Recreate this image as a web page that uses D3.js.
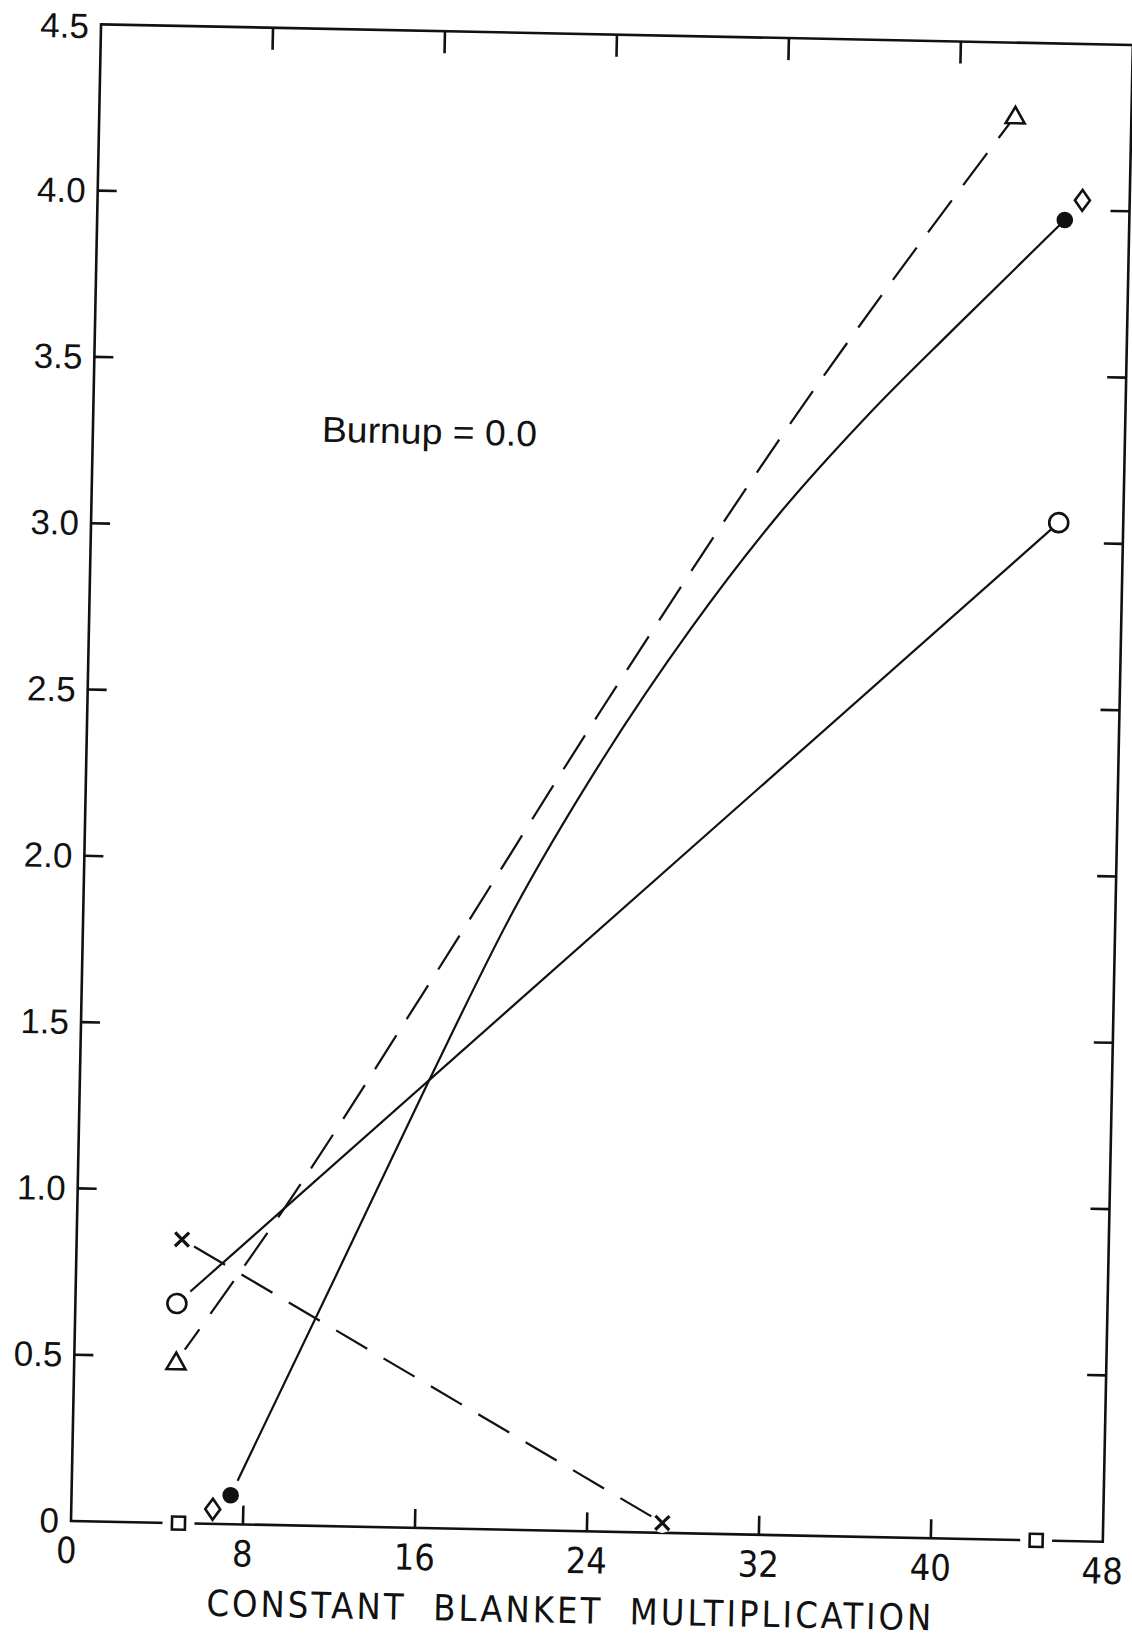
<!DOCTYPE html>
<html>
<head>
<meta charset="utf-8">
<script src="https://cdn.jsdelivr.net/npm/d3@7"></script>
<style>
  html, body { margin: 0; padding: 0; background: #fff; }
  svg { display: block; }
  text { fill: #111; }
</style>
</head>
<body>
<svg id="chart" width="1132" height="1641"></svg>
<script>
// ---- axis ticks and labels ----
const xTickValues = [0, 8, 16, 24, 32, 40, 48];
const xTickLabels = ["0", "8", "16", "24", "32", "40", "48"];
const yTickValues = [0, 0.5, 1.0, 1.5, 2.0, 2.5, 3.0, 3.5, 4.0, 4.5];
const yTickLabels = ["0", "0.5", "1.0", "1.5", "2.0", "2.5", "3.0", "3.5", "4.0", "4.5"];
const xTitle = "CONSTANT  BLANKET  MULTIPLICATION";
const note = "Burnup = 0.0";

// ---- series (x = blanket multiplication, y = value) ----
// open circles, solid straight line
const circleX = [4.72, 45.0];
const circleY = [0.66, 3.06];
// open triangles, dashed curve
const triangleX = [4.74, 10, 16, 24, 32, 42.6];
const triangleY = [0.485, 0.99, 1.62, 2.48, 3.3, 4.28];
// filled circles, solid curve
const dotX = [7.4, 12, 16.2, 20, 24, 28, 32, 36, 40, 45.0];
const dotY = [0.087, 0.74, 1.34, 1.86, 2.32, 2.72, 3.07, 3.37, 3.64, 3.97];
// crosses, dashed straight line
const crossX = [4.9, 27.5];
const crossY = [0.853, 0.03];
// open diamonds, no line
const diamondX = [6.58, 45.8];
const diamondY = [0.044, 4.03];
// open squares, no line
const squareX = [5.0, 44.9];
const squareY = [0, 0];

// ---- layout ----
const W = 1032, H = 1497;
const originX = 71, originY = 1521, tilt = 1.15;

const svg = d3.select("#chart");
svg.append("rect").attr("width", 1132).attr("height", 1641).attr("fill", "#fff");

const g = svg.append("g")
  .attr("transform", `translate(${originX},${originY}) rotate(${tilt})`);

const x = d3.scaleLinear().domain([0, 48]).range([0, W]);
const y = d3.scaleLinear().domain([0, 4.5]).range([0, -H]);

const ink = "#111";

// frame
const frame = g.append("g").attr("fill", "none").attr("stroke", ink).attr("stroke-width", 2.6);
frame.append("rect").attr("x", 0).attr("y", -H).attr("width", W).attr("height", H);

// inward ticks on all four sides
const innerX = xTickValues.filter(v => v > 0 && v < 48);
const innerY = yTickValues.filter(v => v > 0 && v < 4.5);
const tickLen = 19;
frame.selectAll(".tb").data(innerX).join("line")
  .attr("x1", d => x(d)).attr("x2", d => x(d)).attr("y1", 0).attr("y2", -tickLen);
frame.selectAll(".tt").data(innerX).join("line")
  .attr("x1", d => x(d)).attr("x2", d => x(d)).attr("y1", -H).attr("y2", -H + 22);
frame.selectAll(".tl").data(innerY).join("line")
  .attr("x1", 0).attr("x2", tickLen).attr("y1", d => y(d)).attr("y2", d => y(d));
frame.selectAll(".tr").data(innerY).join("line")
  .attr("x1", W).attr("x2", W - tickLen).attr("y1", d => y(d)).attr("y2", d => y(d));

// tick labels
g.append("g").selectAll("text").data(yTickValues).join("text")
  .attr("x", -12).attr("y", d => y(d) + (d === 4.5 ? 14 : 12))
  .attr("text-anchor", "end")
  .attr("font-family", "'Liberation Sans', Arial, sans-serif")
  .attr("font-size", 35)
  .text((d, i) => yTickLabels[i]);

g.append("g").selectAll("text").data(xTickValues).join("text")
  .attr("x", d => x(d) - (d === 0 ? 4 : 0)).attr("y", 42)
  .attr("text-anchor", "middle")
  .attr("font-family", "'Liberation Sans Narrow', 'DejaVu Sans Condensed', sans-serif")
  .attr("font-size", 36)
  .text((d, i) => xTickLabels[i]);

// axis title and note
g.append("text")
  .attr("x", 137).attr("y", 92)
  .attr("font-family", "'Liberation Sans Narrow', 'DejaVu Sans Condensed', sans-serif")
  .attr("font-size", 36)
  .attr("textLength", 725).attr("lengthAdjust", "spacing")
  .attr("xml:space", "preserve")
  .text(xTitle);

g.append("text")
  .attr("x", 229).attr("y", -1084)
  .attr("font-family", "'Liberation Sans', 'DejaVu Sans', sans-serif")
  .attr("font-size", 36)
  .attr("textLength", 215).attr("lengthAdjust", "spacingAndGlyphs")
  .text(note);

// ---- lines ----
const toPts = (xs, ys) => xs.map((v, i) => [x(v), y(ys[i])]);
const straight = d3.line();
const smooth = d3.line().curve(d3.curveMonotoneX);

const lines = g.append("g").attr("fill", "none").attr("stroke", ink).attr("stroke-width", 2.2);
lines.append("path").attr("d", straight(toPts(circleX, circleY)));
lines.append("path").attr("d", smooth(toPts(dotX, dotY)));
lines.append("path").attr("d", smooth(toPts(triangleX, triangleY)))
  .attr("stroke-dasharray", "40 19");
lines.append("path").attr("d", straight(toPts(crossX, crossY)))
  .attr("stroke-dasharray", "36 19").attr("stroke-dashoffset", -14);

// ---- markers ----
const marks = g.append("g");

// white clearance behind the left-hand markers and the squares on the axis
const halo = (px, py, r) => marks.append("circle").attr("cx", px).attr("cy", py).attr("r", r).attr("fill", "#fff");
halo(x(circleX[0]), y(circleY[0]), 18);
halo(x(triangleX[0]), y(triangleY[0]), 15);
halo(x(dotX[0]), y(dotY[0]), 16);
halo(x(crossX[0]), y(crossY[0]), 12);
halo(x(crossX[1]), y(crossY[1]), 10);
halo(x(diamondX[0]), y(diamondY[0]), 12);
squareX.forEach((v, i) => halo(x(v), y(squareY[i]), 16));

const sw = 2.6;
function circleOpen(px, py) {
  marks.append("circle").attr("cx", px).attr("cy", py).attr("r", 9.5)
    .attr("fill", "#fff").attr("stroke", ink).attr("stroke-width", sw);
}
function circleFilled(px, py) {
  marks.append("circle").attr("cx", px).attr("cy", py).attr("r", 8.3).attr("fill", ink);
}
function triangle(px, py) {
  const s = 19, h = s * Math.sqrt(3) / 2;
  marks.append("path")
    .attr("d", `M${px},${py - h * 0.55} L${px + s / 2},${py + h * 0.45} L${px - s / 2},${py + h * 0.45} Z`)
    .attr("fill", "#fff").attr("stroke", ink).attr("stroke-width", sw).attr("stroke-linejoin", "miter");
}
function diamond(px, py) {
  marks.append("path")
    .attr("d", `M${px},${py - 10.5} L${px + 7.5},${py} L${px},${py + 10.5} L${px - 7.5},${py} Z`)
    .attr("fill", "#fff").attr("stroke", ink).attr("stroke-width", sw);
}
function square(px, py) {
  marks.append("rect").attr("x", px - 6.5).attr("y", py - 6.5).attr("width", 13).attr("height", 13)
    .attr("fill", "#fff").attr("stroke", ink).attr("stroke-width", sw);
}
function cross(px, py) {
  const s = 7;
  marks.append("path")
    .attr("d", `M${px - s},${py - s} L${px + s},${py + s} M${px + s},${py - s} L${px - s},${py + s}`)
    .attr("stroke", ink).attr("stroke-width", 3.2);
}

const ends = arr => [0, arr.length - 1];
ends(circleX).forEach(i => circleOpen(x(circleX[i]), y(circleY[i])));
ends(triangleX).forEach(i => triangle(x(triangleX[i]), y(triangleY[i])));
ends(dotX).forEach(i => circleFilled(x(dotX[i]), y(dotY[i])));
crossX.forEach((v, i) => cross(x(v), y(crossY[i])));
diamondX.forEach((v, i) => diamond(x(v), y(diamondY[i])));
squareX.forEach((v, i) => square(x(v), y(squareY[i])));
</script>
</body>
</html>
